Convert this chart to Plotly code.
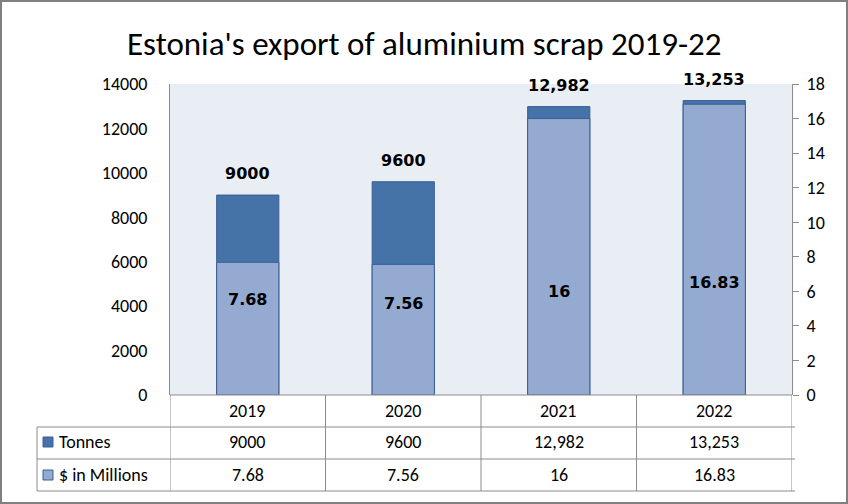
import plotly.graph_objects as go

# ---------------------------
# data
# ---------------------------
years = ["2019", "2020", "2021", "2022"]
tonnes = [9000, 9600, 12982, 13253]
usd_millions = [7.68, 7.56, 16, 16.83]
tonnes_text = ["9000", "9600", "12,982", "13,253"]
usd_text = ["7.68", "7.56", "16", "16.83"]

# where the inner ($) labels sit, in right-axis units (Excel placed them by hand)
usd_label_y = [5.5, 5.3, 6.0, 6.5]

# ---------------------------
# look
# ---------------------------
DARK = "#4572A7"
LIGHT = "#95AAD1"
EDGE = "#3A5F94"
GRID = "#8C8C8C"
BG = "#E9EDF4"
FONT = "Carlito, Liberation Sans Narrow, Lato, sans-serif"
BOLD = "DejaVu Sans, Verdana, sans-serif"

W_PX, H_PX = 848, 504
L, R, T, B = 170, 792, 84, 395   # plot area in pixels


def px_x(p):
    return (p - L) / (R - L)


def px_y(p):
    return (B - p) / (B - T)


fig = go.Figure()

fig.add_trace(go.Bar(
    x=years, y=tonnes, name="Tonnes", yaxis="y",
    marker=dict(color=DARK, line=dict(color=EDGE, width=1)),
    width=0.4, hoverinfo="x+y",
))
fig.add_trace(go.Bar(
    x=years, y=usd_millions, name="$ in Millions", yaxis="y2",
    marker=dict(color=LIGHT, line=dict(color=EDGE, width=1)),
    width=0.4, hoverinfo="x+y",
))

annotations = []
for i, (v, t) in enumerate(zip(tonnes, tonnes_text)):
    annotations.append(dict(x=i, y=v, xref="x", yref="y", text=f"<b>{t}</b>",
                            showarrow=False, yanchor="bottom", yshift=10,
                            font=dict(family=BOLD, size=16, color="black")))
for i, (ly, t) in enumerate(zip(usd_label_y, usd_text)):
    annotations.append(dict(x=i, y=ly, xref="x", yref="y2", text=f"<b>{t}</b>",
                            showarrow=False, yanchor="middle",
                            font=dict(family=BOLD, size=16, color="black")))

# data table under the plot
row_y = [411, 442, 475]
for i, yr in enumerate(years):
    for py, txt in zip(row_y, [yr, tonnes_text[i], usd_text[i]]):
        annotations.append(dict(x=i, y=px_y(py), xref="x", yref="paper", text=txt,
                                showarrow=False, yanchor="middle",
                                font=dict(family=FONT, size=18, color="black")))
for py, name in zip(row_y[1:], ["Tonnes", "$ in Millions"]):
    annotations.append(dict(x=px_x(57), y=px_y(py), xref="paper", yref="paper", text=name,
                            showarrow=False, xanchor="left", yanchor="middle",
                            font=dict(family=FONT, size=18, color="black")))

annotations.append(dict(x=px_x(424), y=px_y(44), xref="paper", yref="paper",
                        text="Estonia's export of aluminium scrap 2019-22",
                        showarrow=False, xanchor="center", yanchor="middle",
                        font=dict(family=FONT, size=33, color="black")))

shapes = []
line = dict(color=GRID, width=1)
# horizontal table rules
for py in [427, 459, 491]:
    shapes.append(dict(type="line", xref="paper", yref="paper",
                       x0=px_x(37), x1=px_x(795), y0=px_y(py), y1=px_y(py), line=line))
shapes.append(dict(type="line", xref="paper", yref="paper",
                   x0=px_x(L), x1=px_x(R), y0=px_y(B), y1=px_y(B), line=line))
# vertical table rules at category boundaries
for k in range(5):
    shapes.append(dict(type="line", xref="x", yref="paper",
                       x0=k - 0.5, x1=k - 0.5, y0=px_y(B), y1=px_y(491), line=line))
shapes.append(dict(type="line", xref="paper", yref="paper",
                   x0=px_x(37), x1=px_x(37), y0=px_y(427), y1=px_y(491), line=line))
# legend keys in the table
for py, col in zip(row_y[1:], [DARK, LIGHT]):
    shapes.append(dict(type="rect", xref="paper", yref="paper",
                       x0=px_x(43), x1=px_x(53), y0=px_y(py - 5), y1=px_y(py + 5),
                       fillcolor=col, line=dict(color=EDGE, width=1)))
# outer frame
shapes.append(dict(type="rect", xref="paper", yref="paper",
                   x0=px_x(1), x1=px_x(W_PX - 1), y0=px_y(1), y1=px_y(H_PX - 1),
                   line=dict(color="#808080", width=2)))

fig.update_layout(
    width=W_PX, height=H_PX,
    margin=dict(l=L, r=W_PX - R, t=T, b=H_PX - B, pad=0, autoexpand=False),
    paper_bgcolor="white", plot_bgcolor=BG,
    barmode="overlay", showlegend=False,
    font=dict(family=FONT, size=18, color="black"),
    xaxis=dict(type="category", showticklabels=False, showgrid=False, ticks="",
               showline=False, range=[-0.5, 3.5], zeroline=False, automargin=False),
    yaxis=dict(range=[0, 14000], dtick=2000, tickformat="d", showgrid=False,
               zeroline=False, showline=True, linecolor=GRID, linewidth=1, ticks="",
               ticklabelstandoff=18, tickfont=dict(family=FONT, size=18),
               automargin=False),
    yaxis2=dict(range=[0, 18], dtick=2, overlaying="y", side="right", showgrid=False,
                zeroline=False, showline=True, linecolor=GRID, linewidth=1,
                ticks="outside", ticklen=6, tickcolor=GRID,
                ticklabelstandoff=4, tickfont=dict(family=FONT, size=18),
                automargin=False),
    annotations=annotations,
    shapes=shapes,
)

# the default page keeps an 8px body margin; drop it so the chart sits at (0, 0)
fig.write_html("out.html", config={"displayModeBar": False},
               post_script="document.body.style.margin='0';")
